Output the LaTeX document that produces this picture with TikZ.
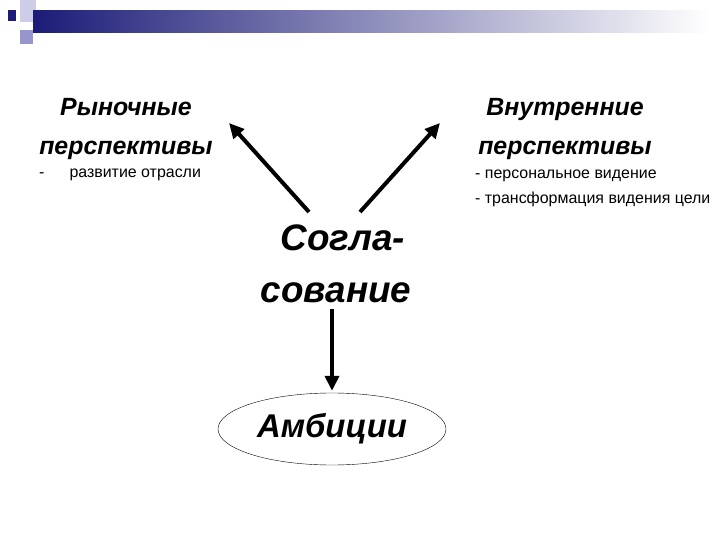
\documentclass[tikz,border=0pt]{standalone}
\usepackage{fontspec}
\setmainfont{Liberation Sans}
\usetikzlibrary{arrows.meta, positioning, shapes.geometric}
\usepackage{xcolor}
\definecolor{barcolor}{RGB}{28,28,120}
\definecolor{lightsq}{RGB}{205,205,232}
\definecolor{midsq}{RGB}{150,150,205}

\begin{document}
\begin{tikzpicture}[x=1bp, y=-1bp, every node/.style={inner sep=0pt}, >={Triangle[length=15bp,width=14bp]},
    head/.style={font=\fontsize{25}{39}\selectfont\bfseries\itshape, align=center},
    note/.style={font=\fontsize{16}{25}\selectfont, align=left, anchor=west},
    big/.style={font=\fontsize{37}{52}\selectfont\bfseries\itshape, align=center},
    goal/.style={ellipse, draw, thin, minimum width=228bp, minimum height=72bp, font=\fontsize{33}{36}\selectfont\bfseries\itshape}]
    \useasboundingbox (0,0) rectangle (720,540);

    % slide decoration
    \fill[lightsq] (20,0) rectangle (36,22);
    \fill[midsq] (20,30) rectangle (33,44);
    \shade[left color=barcolor, right color=white] (33,11) rectangle (710,33);
    \fill[barcolor] (8,10) rectangle (16,21);

    \node[head] (market) at (126,129) {Рыночные\\перспективы};
    \node[head] (inner) at (565,129) {Внутренние\\перспективы};
    \node[note] (marketnote) at (39,175) {-\hspace{25bp}развитие отрасли};
    \node[note] (innernote) at (475,188) {- персональное видение\\- трансформация видения цели};

    \node[big] (agree) at (336,264) {\hspace*{14bp}Согла-\\сование};
    \node[goal] (ambition) at (332,429) {Амбиции};

    \coordinate (mktip) at (229,123);
    \coordinate (intip) at (440,123);
    \coordinate (agrleft) at (309,212);
    \coordinate (agrright) at (360,212);

    \draw[->, line width=4bp] (agrleft) to (mktip);
    \draw[->, line width=4bp] (agrright) to (intip);
    \draw[->, line width=4bp, shorten <=6bp, shorten >=2bp] (agree.south -| ambition.north) to (ambition.north);

\end{tikzpicture}
\end{document}
